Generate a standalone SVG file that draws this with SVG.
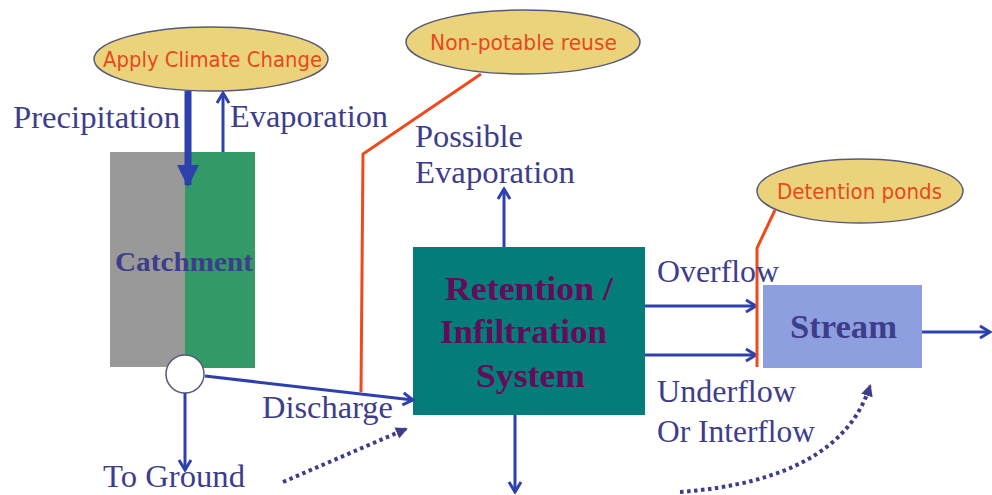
<svg xmlns="http://www.w3.org/2000/svg" width="992" height="495" viewBox="0 0 992 495">
<style>
.lbl{font-family:"Liberation Serif","Times New Roman",serif;font-size:31px;fill:#3d3d8c}
.note{font-family:"DejaVu Sans",Verdana,sans-serif;font-size:20.5px;fill:#e8481c}
.ell{fill:#ebd37c;stroke:#565a78;stroke-width:1.5}
.flow{fill:none;stroke:#2e40ad;stroke-width:3}
.org{fill:none;stroke:#f04a1c;stroke-width:3}
.bold{font-family:"Liberation Serif","Times New Roman",serif;font-weight:bold}
</style>
<defs>
<marker id="open" viewBox="0 0 14 16" refX="12" refY="8" markerWidth="14" markerHeight="16" markerUnits="userSpaceOnUse" orient="auto">
<path d="M2,2 L12,8 L2,14" fill="none" stroke="#2e40ad" stroke-width="3"/>
</marker>
<marker id="solid" viewBox="0 0 22 22" refX="20" refY="11" markerWidth="22" markerHeight="22" markerUnits="userSpaceOnUse" orient="auto">
<path d="M0,0 L22,11 L0,22 Z" fill="#2e40ad"/>
</marker>
<marker id="dot" viewBox="0 0 12 12" refX="10" refY="6" markerWidth="12" markerHeight="12" markerUnits="userSpaceOnUse" orient="auto">
<path d="M0,0 L12,6 L0,12 Z" fill="#3d3d8c"/>
</marker>
</defs>
<rect width="992" height="495" fill="#ffffff"/>

<g id="catchment">
<rect x="110" y="152" width="75" height="215" fill="#999999"/>
<rect x="185" y="152" width="70" height="216" fill="#339966"/>
<text class="bold" x="115" y="271" font-size="27" fill="#3d3d8c" textLength="138" lengthAdjust="spacingAndGlyphs">Catchment</text>
</g>

<g id="junction">
<circle cx="185" cy="374" r="19" fill="#ffffff" stroke="#565a78" stroke-width="1.5"/>
</g>

<g id="retention">
<rect x="413" y="247" width="232" height="168" fill="#047c7a"/>
<g class="bold" font-size="34" fill="#660a5a">
<text x="445" y="300" textLength="168" lengthAdjust="spacingAndGlyphs">Retention /</text>
<text x="440" y="343" textLength="167" lengthAdjust="spacingAndGlyphs">Infiltration</text>
<text x="476" y="387" textLength="109" lengthAdjust="spacingAndGlyphs">System</text>
</g>
</g>

<g id="stream">
<rect x="763" y="285" width="159" height="83" fill="#8e9fe0"/>
<text class="bold" x="790" y="338" font-size="33" fill="#3d3d8c" textLength="107" lengthAdjust="spacingAndGlyphs">Stream</text>
</g>

<g id="climate">
<ellipse class="ell" cx="211" cy="59" rx="117" ry="32"/>
<text class="note" x="103" y="67" textLength="219" lengthAdjust="spacingAndGlyphs">Apply Climate Change</text>
</g>

<g id="reuse">
<ellipse class="ell" cx="523" cy="42" rx="117" ry="32"/>
<text class="note" x="430" y="50" textLength="187" lengthAdjust="spacingAndGlyphs">Non-potable reuse</text>
</g>

<g id="ponds">
<ellipse class="ell" cx="860" cy="191" rx="103" ry="32"/>
<text class="note" x="777" y="199" textLength="165" lengthAdjust="spacingAndGlyphs">Detention ponds</text>
</g>

<g id="connectors">
<line x1="188" y1="91" x2="188" y2="185" stroke="#2e40ad" stroke-width="7" marker-end="url(#solid)"/>
<line class="flow" x1="223" y1="152" x2="223" y2="93" marker-end="url(#open)"/>
<line class="flow" x1="185" y1="393" x2="185" y2="470" marker-end="url(#open)"/>
<line class="flow" x1="205" y1="376" x2="413" y2="400" marker-end="url(#open)"/>
<line class="flow" x1="504" y1="247" x2="504" y2="189" marker-end="url(#open)"/>
<line class="flow" x1="515" y1="415" x2="515" y2="492" marker-end="url(#open)"/>
<line class="flow" x1="645" y1="306" x2="756" y2="306" marker-end="url(#open)"/>
<line class="flow" x1="645" y1="355" x2="756" y2="355" marker-end="url(#open)"/>
<line class="flow" x1="922" y1="332" x2="990" y2="332" marker-end="url(#open)"/>
<path d="M283,482 L406,429" fill="none" stroke="#3d3d8c" stroke-width="4" stroke-dasharray="3.5,3.5" marker-end="url(#dot)"/>
<path d="M680,492 Q840,480 870,386" fill="none" stroke="#3d3d8c" stroke-width="4" stroke-dasharray="3.5,3.5" marker-end="url(#dot)"/>
<polyline class="org" points="481,74 363,154 361,392"/>
<polyline class="org" points="775,210 757,248 757,367"/>
</g>

<g id="labels">
<text class="lbl" x="13" y="128" textLength="167" lengthAdjust="spacingAndGlyphs">Precipitation</text>
<text class="lbl" x="230" y="127" textLength="158" lengthAdjust="spacingAndGlyphs">Evaporation</text>
<text class="lbl" x="415" y="147" textLength="108" lengthAdjust="spacingAndGlyphs">Possible</text>
<text class="lbl" x="415" y="183" textLength="160" lengthAdjust="spacingAndGlyphs">Evaporation</text>
<text class="lbl" x="262" y="418" textLength="131" lengthAdjust="spacingAndGlyphs">Discharge</text>
<text class="lbl" x="103" y="487" textLength="142" lengthAdjust="spacingAndGlyphs">To Ground</text>
<text class="lbl" x="657" y="282" textLength="122" lengthAdjust="spacingAndGlyphs">Overflow</text>
<text class="lbl" x="657" y="402" textLength="139" lengthAdjust="spacingAndGlyphs">Underflow</text>
<text class="lbl" x="657" y="442" textLength="158" lengthAdjust="spacingAndGlyphs">Or Interflow</text>
</g>
</svg>
